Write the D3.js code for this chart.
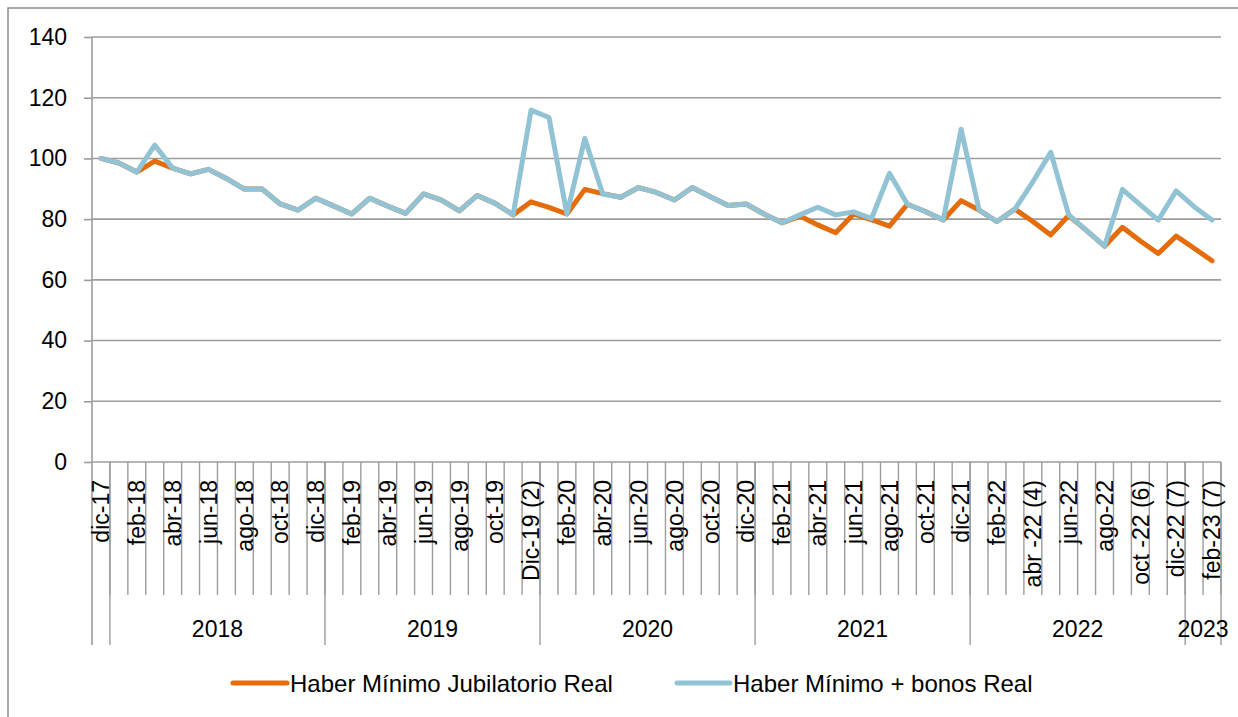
<!DOCTYPE html>
<html>
<head>
<meta charset="utf-8">
<script src="https://cdn.jsdelivr.net/npm/d3@7"></script>
<style>
  html, body { margin: 0; padding: 0; background: #fff; }
  svg { display: block; font-family: "Liberation Sans", Arial, sans-serif; }
</style>
</head>
<body>
<svg id="chart" width="1238" height="717"></svg>
<script>
// ---------- DATA ----------
const categories = [
  "dic-17",
  "ene-18","feb-18","mar-18","abr-18","may-18","jun-18","jul-18","ago-18","sep-18","oct-18","nov-18","dic-18",
  "ene-19","feb-19","mar-19","abr-19","may-19","jun-19","jul-19","ago-19","sep-19","oct-19","nov-19","Dic-19 (2)",
  "ene-20","feb-20","mar-20","abr-20","may-20","jun-20","jul-20","ago-20","sep-20","oct-20","nov-20","dic-20",
  "ene-21","feb-21","mar-21","abr-21","may-21","jun-21","jul-21","ago-21","sep-21","oct-21","nov-21","dic-21",
  "ene-22","feb-22","mar-22","abr -22 (4)","may-22","jun-22","jul-22","ago-22","sep-22","oct -22 (6)","nov-22","dic-22 (7)",
  "ene-23","feb-23 (7)"
];
const yearGroups = [
  { label: "", start: 0, count: 1 },
  { label: "2018", start: 1, count: 12 },
  { label: "2019", start: 13, count: 12 },
  { label: "2020", start: 25, count: 12 },
  { label: "2021", start: 37, count: 12 },
  { label: "2022", start: 49, count: 12 },
  { label: "2023", start: 61, count: 2 }
];
const haberMinimoReal = [
  100, 98.5, 95.5, 99.1, 96.8, 94.9, 96.4, 93.4, 89.9, 89.9, 85, 83, 86.9,
  84.3, 81.7, 86.9, 84.3, 81.9, 88.3, 86.3, 82.7, 87.8, 85.2, 81.4, 85.7,
  83.9, 81.7, 89.8, 88.4, 87.2, 90.4, 88.8, 86.3, 90.4, 87.4, 84.5, 85,
  81.7, 78.8, 81, 78.1, 75.5, 81.7, 79.8, 77.7, 84.9, 82.5, 79.7, 86.1,
  83, 79.2, 83.3, 79.2, 74.8, 81.2, 76.2, 71.1, 77.3, 72.8, 68.7, 74.4,
  70.4, 66.3
];
const haberMinimoBonosReal = [
  100, 98.5, 95.5, 104.4, 96.8, 94.9, 96.4, 93.4, 89.9, 89.9, 85, 83, 86.9,
  84.3, 81.7, 86.9, 84.3, 81.9, 88.3, 86.3, 82.7, 87.8, 85.2, 81.4, 115.9,
  113.5, 81.7, 106.6, 88.3, 87.2, 90.4, 88.8, 86.3, 90.4, 87.4, 84.5, 85,
  81.7, 78.8, 81.4, 83.9, 81.4, 82.4, 80.2, 95.1, 84.9, 82.5, 79.7, 109.6,
  83, 79.2, 83.3, 92.3, 102, 81.4, 76.2, 71.1, 89.8, 84.7, 79.7, 89.3,
  84.1, 79.7
];
const yTicks = [0, 20, 40, 60, 80, 100, 120, 140];
const seriesNames = ["Haber Mínimo Jubilatorio Real", "Haber Mínimo + bonos Real"];
const seriesColors = ["#E46C0A", "#92C3D5"];

// ---------- LAYOUT ----------
const svg = d3.select("#chart");
const plotL = 92, plotR = 1221, plotT = 37, plotB = 462;
const gridColor = "#9c9c9c";
const fontSize = 23;

// outer chart border (extends past the right/bottom edges as in the crop)
svg.append("rect")
  .attr("x", 8).attr("y", 8).attr("width", 1260).attr("height", 740)
  .attr("fill", "none").attr("stroke", "#8c8c8c").attr("stroke-width", 1.5);

const x = d3.scaleBand().domain(d3.range(categories.length)).range([plotL, plotR]).padding(0);
const y = d3.scaleLinear().domain([0, 140]).range([plotB, plotT]);
const bw = x.bandwidth();
const cx = i => x(i) + bw / 2;

// gridlines
svg.append("g").selectAll("line").data(yTicks).join("line")
  .attr("x1", plotL).attr("x2", plotR)
  .attr("y1", d => y(d)).attr("y2", d => y(d))
  .attr("stroke", gridColor).attr("stroke-width", 1.6);

// y axis
const yAxis = svg.append("g").attr("transform", `translate(${plotL},0)`)
  .call(d3.axisLeft(y).tickValues(yTicks).tickSize(8).tickPadding(17).tickFormat(d3.format("d")));
yAxis.select(".domain").remove();
yAxis.selectAll(".tick line").attr("stroke", gridColor).attr("stroke-width", 1.6);
yAxis.selectAll("text").attr("font-size", fontSize).attr("fill", "#000")
  .attr("font-family", "Liberation Sans, Arial, sans-serif");

// y axis line (extends down through category levels)
svg.append("line").attr("x1", plotL).attr("x2", plotL).attr("y1", plotT).attr("y2", 645)
  .attr("stroke", gridColor).attr("stroke-width", 1.6);

// minor category boundary ticks
const boundaries = d3.range(1, categories.length + 1).map(i => i < categories.length ? x(i) : plotR);
svg.append("g").selectAll("line").data(boundaries).join("line")
  .attr("x1", d => d).attr("x2", d => d)
  .attr("y1", plotB).attr("y2", 595)
  .attr("stroke", gridColor).attr("stroke-width", 1.4);

// year group separator lines
const groupEnds = yearGroups.map(g => (g.start + g.count) < categories.length ? x(g.start + g.count) : plotR);
svg.append("g").selectAll("line").data(groupEnds).join("line")
  .attr("x1", d => d).attr("x2", d => d)
  .attr("y1", plotB).attr("y2", 645)
  .attr("stroke", gridColor).attr("stroke-width", 1.4);

// x axis labels (every other category)
const xAxis = svg.append("g").attr("transform", `translate(0,${plotB})`)
  .call(d3.axisBottom(x).tickSize(0).tickFormat(i => i % 2 === 0 ? categories[i] : ""));
xAxis.select(".domain").remove();
xAxis.selectAll("text")
  .attr("font-size", fontSize).attr("fill", "#000")
  .attr("font-family", "Liberation Sans, Arial, sans-serif")
  .attr("transform", "rotate(-90)")
  .attr("text-anchor", "end")
  .attr("x", -18).attr("y", 0).attr("dy", "0.36em");

// year labels
svg.append("g").selectAll("text").data(yearGroups.filter(g => g.label)).join("text")
  .attr("x", g => {
    const s = x(g.start);
    const e = (g.start + g.count) < categories.length ? x(g.start + g.count) : plotR;
    return (s + e) / 2;
  })
  .attr("y", 637)
  .attr("text-anchor", "middle")
  .attr("font-size", fontSize)
  .text(g => g.label);

// lines
const line = d3.line().x((d, i) => cx(i)).y(d => y(d));
[haberMinimoReal, haberMinimoBonosReal].forEach((vals, k) => {
  svg.append("path").datum(vals)
    .attr("d", line)
    .attr("fill", "none")
    .attr("stroke", seriesColors[k])
    .attr("stroke-width", 5)
    .attr("stroke-linejoin", "round")
    .attr("stroke-linecap", "round");
});

// legend
const legendItems = [
  { x1: 233, x2: 287, tx: 290 },
  { x1: 677, x2: 730, tx: 733 }
];
legendItems.forEach((it, k) => {
  svg.append("line").attr("x1", it.x1).attr("x2", it.x2).attr("y1", 683).attr("y2", 683)
    .attr("stroke", seriesColors[k]).attr("stroke-width", 5).attr("stroke-linecap", "round");
  svg.append("text").attr("x", it.tx).attr("y", 683).attr("dy", "0.36em")
    .attr("font-size", 24).attr("fill", "#000").text(seriesNames[k]);
});
</script>
</body>
</html>
